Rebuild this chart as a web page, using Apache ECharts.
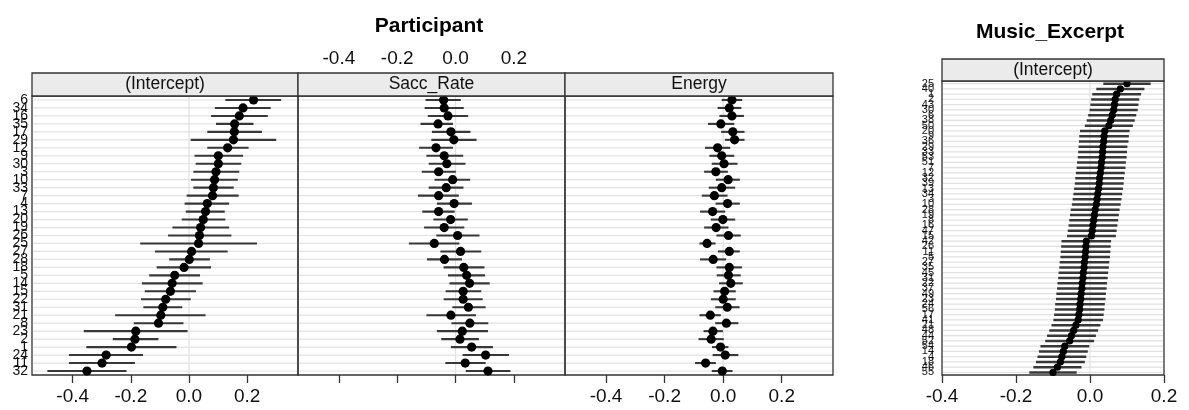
<!DOCTYPE html>
<html>
<head>
<meta charset="utf-8">
<script src="https://cdn.jsdelivr.net/npm/echarts@6/dist/echarts.min.js"></script>
<style>
  html, body { margin: 0; padding: 0; background: #fff; }
  #chart { width: 1189px; height: 410px; }
</style>
</head>
<body>
<div id="chart"></div>
<script>
// participant levels, top to bottom
const participants = [6, 34, 16, 35, 17, 29, 12, 9, 30, 3, 10, 33, 7, 4, 13, 20, 19, 26,
  25, 27, 28, 18, 5, 14, 15, 22, 31, 21, 8, 23, 2, 1, 24, 11, 32].map(String);
const terms = ['(Intercept)', 'Sacc_Rate', 'Energy'];

const interceptEst = [0.222, 0.186, 0.173, 0.157, 0.156, 0.153, 0.133, 0.101, 0.101, 0.093, 0.088, 0.084,
  0.081, 0.063, 0.057, 0.049, 0.040, 0.036, 0.033, 0.009, 0.001, -0.017, -0.049, -0.058, -0.064,
  -0.080, -0.090, -0.097, -0.105, -0.183, -0.186, -0.198, -0.285, -0.299, -0.351];
const interceptLo = [0.125, 0.089, 0.076, 0.093, 0.063, 0.006, 0.063, 0.019, 0.023, 0.015, 0.007, 0.015,
  -0.008, -0.015, -0.011, -0.025, -0.057, -0.072, -0.168, -0.117, -0.068, -0.111, -0.137, -0.162, -0.152,
  -0.165, -0.157, -0.254, -0.190, -0.362, -0.262, -0.353, -0.413, -0.413, -0.487];
const interceptHi = [0.317, 0.281, 0.271, 0.222, 0.251, 0.300, 0.205, 0.186, 0.180, 0.173, 0.168, 0.154,
  0.171, 0.138, 0.123, 0.125, 0.138, 0.146, 0.234, 0.133, 0.072, 0.076, 0.038, 0.047, 0.024,
  0.006, -0.023, 0.057, -0.019, -0.005, -0.105, -0.043, -0.158, -0.186, -0.215];

const saccEst = [-0.041, -0.039, -0.026, -0.060, -0.016, -0.006, -0.067, -0.039, -0.030, -0.058, -0.010, -0.032,
  -0.058, -0.005, -0.058, -0.017, -0.039, 0.007, -0.073, 0.017, -0.038, 0.028, 0.038, 0.048, 0.026,
  0.026, 0.044, -0.016, 0.049, 0.023, 0.015, 0.055, 0.103, 0.033, 0.111];
const saccLo = [-0.103, -0.106, -0.095, -0.120, -0.081, -0.083, -0.125, -0.100, -0.092, -0.116, -0.072, -0.092,
  -0.129, -0.064, -0.114, -0.076, -0.108, -0.066, -0.160, -0.052, -0.098, -0.041, -0.026, -0.021, -0.034,
  -0.041, -0.011, -0.100, -0.014, -0.064, -0.049, -0.016, 0.024, -0.035, 0.035];
const saccHi = [0.018, 0.028, 0.043, -0.009, 0.051, 0.072, -0.009, 0.026, 0.034, 0.001, 0.050, 0.027,
  0.011, 0.056, -0.003, 0.042, 0.030, 0.082, 0.013, 0.088, 0.022, 0.099, 0.101, 0.117, 0.088,
  0.093, 0.103, 0.070, 0.112, 0.111, 0.080, 0.128, 0.183, 0.103, 0.188];

const energyEst = [0.030, 0.021, 0.030, -0.008, 0.033, 0.039, -0.019, -0.005, 0.003, -0.025, 0.017, -0.005,
  -0.030, 0.015, -0.036, -0.001, -0.024, 0.018, -0.055, 0.021, -0.034, 0.021, 0.018, 0.026, 0.005,
  0.000, 0.014, -0.044, 0.011, -0.035, -0.041, -0.009, 0.007, -0.060, -0.003];
const energyLo = [-0.005, -0.019, -0.013, -0.052, -0.007, 0.006, -0.062, -0.047, -0.039, -0.065, -0.025, -0.049,
  -0.073, -0.026, -0.079, -0.042, -0.065, -0.023, -0.081, -0.018, -0.079, -0.023, -0.022, -0.014, -0.033,
  -0.042, -0.027, -0.081, -0.027, -0.067, -0.084, -0.038, -0.036, -0.096, -0.039];
const energyHi = [0.065, 0.062, 0.071, 0.038, 0.073, 0.073, 0.024, 0.038, 0.049, 0.016, 0.057, 0.041,
  0.015, 0.057, 0.007, 0.041, 0.018, 0.060, -0.026, 0.057, 0.010, 0.064, 0.060, 0.067, 0.043,
  0.043, 0.056, -0.008, 0.052, -0.001, 0.002, 0.018, 0.052, -0.025, 0.032];

// music excerpt levels, top to bottom
const excerpts = [25, 40, 1, 2, 43, 30, 6, 38, 50, 20, 9, 36, 29, 33, 53, 51, 7, 12, 32, 39, 13, 34, 3, 10,
  28, 19, 8, 16, 47, 15, 42, 26, 11, 5, 27, 35, 45, 31, 22, 37, 49, 23, 24, 56, 17, 41, 21, 48, 44, 52,
  54, 14, 4, 18, 46, 55].map(String);
const musicEst = [0.100, 0.082, 0.072, 0.068, 0.066, 0.064, 0.060, 0.056, 0.051, 0.040, 0.038, 0.037,
  0.035, 0.034, 0.033, 0.031, 0.030, 0.028, 0.026, 0.025, 0.023, 0.021, 0.019, 0.017, 0.014, 0.012,
  0.010, 0.008, 0.006, 0.004, -0.010, -0.011, -0.012, -0.013, -0.015, -0.016, -0.018, -0.019, -0.021,
  -0.022, -0.024, -0.025, -0.027, -0.028, -0.030, -0.032, -0.038, -0.044, -0.050, -0.055, -0.068,
  -0.072, -0.076, -0.080, -0.088, -0.100];
const musicLo = [0.036, 0.017, 0.006, 0.003, 0.001, -0.001, -0.005, -0.009, -0.014, -0.027, -0.029, -0.030,
  -0.031, -0.032, -0.033, -0.035, -0.036, -0.038, -0.040, -0.041, -0.043, -0.045, -0.047, -0.049, -0.052, -0.054,
  -0.056, -0.058, -0.060, -0.062, -0.077, -0.078, -0.079, -0.080, -0.082, -0.083, -0.085, -0.086, -0.088,
  -0.089, -0.091, -0.092, -0.094, -0.095, -0.097, -0.099, -0.104, -0.110, -0.116, -0.121, -0.134,
  -0.138, -0.142, -0.146, -0.153, -0.164];
const musicHi = [0.164, 0.147, 0.138, 0.133, 0.131, 0.129, 0.125, 0.121, 0.116, 0.107, 0.105, 0.104,
  0.101, 0.100, 0.099, 0.097, 0.096, 0.094, 0.092, 0.091, 0.089, 0.087, 0.085, 0.083, 0.080, 0.078,
  0.076, 0.074, 0.072, 0.070, 0.057, 0.056, 0.055, 0.054, 0.052, 0.051, 0.049, 0.048, 0.046,
  0.045, 0.043, 0.042, 0.040, 0.039, 0.037, 0.035, 0.028, 0.022, 0.016, 0.011, -0.002,
  -0.006, -0.010, -0.014, -0.023, -0.036];

const tickValues = [-0.4, -0.2, 0, 0.2];

const font = 'Liberation Sans, Arial, sans-serif';
const borderColor = '#333';
const panels = [
  { left: 32, top: 96, width: 266, height: 279 },
  { left: 298, top: 96, width: 267, height: 279 },
  { left: 565, top: 96, width: 268, height: 279 },
  { left: 942, top: 81, width: 222, height: 294 },
];
const stripHeight = [23, 23, 23, 22];

const fmt = (v) => (Math.abs(v) < 1e-9 ? '0.0' : v.toFixed(1));

const build = (est, lo, hi) => est.map((v, i) => [v, lo[i], hi[i], i]);
const panelData = [
  build(interceptEst, interceptLo, interceptHi),
  build(saccEst, saccLo, saccHi),
  build(energyEst, energyLo, energyHi),
  build(musicEst, musicLo, musicHi),
];

// light reference lines: one per row, plus the zero line (drawn once)
const bgRender = (params, api) => {
  const cat = api.value(3);
  const p = api.coord([api.value(0), cat]);
  const cs = params.coordSys;
  const children = [
    {
      type: 'line',
      shape: { x1: cs.x + 1, y1: p[1], x2: cs.x + cs.width - 1, y2: p[1] },
      style: { stroke: '#e1e1e1', lineWidth: 1.2 },
    },
  ];
  if (params.dataIndex === 0) {
    const zx = api.coord([0, cat])[0];
    children.push({
      type: 'line',
      shape: { x1: zx, y1: cs.y + 1, x2: zx, y2: cs.y + cs.height - 1 },
      style: { stroke: '#e1e1e1', lineWidth: 1.2 },
    });
  }
  return { type: 'group', children };
};

const fgRender = (r, w) => (params, api) => {
  const cat = api.value(3);
  const p = api.coord([api.value(0), cat]);
  const l = api.coord([api.value(1), cat]);
  const h = api.coord([api.value(2), cat]);
  return {
    type: 'group',
    children: [
      {
        type: 'line',
        shape: { x1: l[0], y1: p[1], x2: h[0], y2: p[1] },
        style: { stroke: '#383838', lineWidth: w },
      },
      {
        type: 'circle',
        shape: { cx: p[0], cy: p[1], r },
        style: { fill: '#000' },
      },
    ],
  };
};

const xAxisBase = (gridIndex, min, max, withLabels) => ({
  type: 'value',
  gridIndex,
  min,
  max,
  position: 'bottom',
  axisLine: { show: false },
  splitLine: { show: false },
  axisTick: {
    show: true,
    inside: false,
    length: 8,
    customValues: tickValues,
    lineStyle: { color: borderColor, width: 1.3 },
  },
  axisLabel: {
    show: withLabels,
    customValues: tickValues,
    formatter: fmt,
    margin: 12,
    fontSize: 19,
    color: '#111',
    fontFamily: font,
  },
});

const xAxes = [
  xAxisBase(0, -0.54, 0.375, true),
  xAxisBase(1, -0.54, 0.375, false),
  xAxisBase(2, -0.54, 0.375, true),
  xAxisBase(3, -0.4, 0.2, true),
  {
    type: 'value',
    gridIndex: 1,
    min: -0.54,
    max: 0.375,
    position: 'top',
    axisLine: { show: false },
    splitLine: { show: false },
    axisTick: { show: false },
    axisLabel: {
      customValues: tickValues,
      formatter: fmt,
      margin: 28,
      fontSize: 19,
      color: '#111',
      fontFamily: font,
    },
  },
];

const yAxes = panels.map((p, i) => ({
  type: 'category',
  gridIndex: i,
  data: i === 3 ? excerpts : participants,
  inverse: true,
  boundaryGap: true,
  axisLine: { show: false },
  axisTick: { show: false },
  splitLine: { show: false },
  axisLabel: {
    show: i === 0 || i === 3,
    interval: 0,
    margin: i === 3 ? 8 : 4,
    fontSize: i === 3 ? 11 : 14,
    lineHeight: i === 3 ? 11 : 14,
    color: '#111',
    fontFamily: font,
  },
}));

const series = [];
panelData.forEach((data, i) => {
  series.push({
    type: 'custom',
    xAxisIndex: i,
    yAxisIndex: i,
    z: 1,
    silent: true,
    data,
    encode: { x: 0, y: 3 },
    renderItem: bgRender,
  });
  series.push({
    type: 'custom',
    xAxisIndex: i,
    yAxisIndex: i,
    z: 3,
    silent: true,
    data,
    encode: { x: 0, y: 3 },
    renderItem: i === 3 ? fgRender(3.6, 2.5) : fgRender(4.6, 2.1),
  });
});

const stripLabels = [terms[0], terms[1], terms[2], terms[0]];
const graphics = [];
panels.forEach((p, i) => {
  const h = stripHeight[i];
  graphics.push({
    type: 'rect',
    shape: { x: p.left, y: p.top - h, width: p.width, height: h },
    style: { fill: '#ebebeb', stroke: borderColor, lineWidth: 1.3 },
    z: 10,
  });
  graphics.push({
    type: 'text',
    x: p.left + p.width / 2,
    y: p.top - h / 2,
    style: {
      text: stripLabels[i],
      fill: '#111',
      font: `17.5px ${font}`,
      align: 'center',
      verticalAlign: 'middle',
    },
    z: 11,
  });
});

const option = {
  animation: false,
  backgroundColor: '#fff',
  title: [
    {
      text: 'Participant',
      left: 424,
      top: 11,
      textAlign: 'center',
      textStyle: { fontSize: 21, fontWeight: 'bold', color: '#000', fontFamily: font },
    },
    {
      text: 'Music_Excerpt',
      left: 1045,
      top: 17,
      textAlign: 'center',
      textStyle: { fontSize: 21, fontWeight: 'bold', color: '#000', fontFamily: font },
    },
  ],
  grid: panels.map((p) => ({
    left: p.left,
    top: p.top,
    width: p.width,
    height: p.height,
    show: true,
    borderColor,
    borderWidth: 1.3,
    backgroundColor: 'transparent',
  })),
  xAxis: xAxes,
  yAxis: yAxes,
  series,
  graphic: graphics,
};

const chart = echarts.init(document.getElementById('chart'));
chart.setOption(option);
window.addEventListener('resize', () => chart.resize());
</script>
</body>
</html>
